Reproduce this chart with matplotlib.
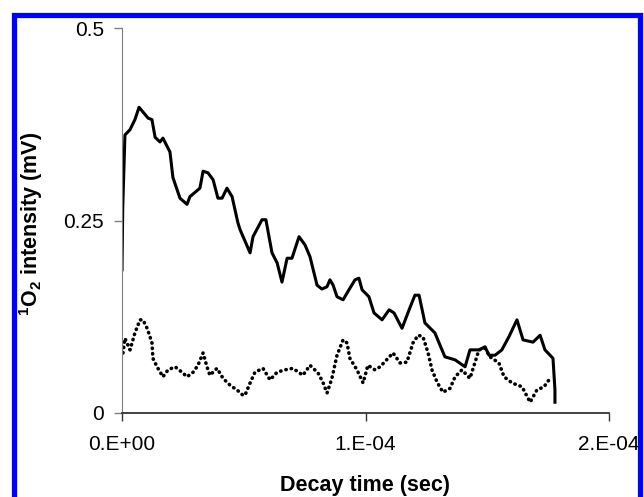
import matplotlib
matplotlib.use("Agg")
import matplotlib.pyplot as plt
from matplotlib.lines import Line2D
import numpy as np

plt.rcParams['font.family'] = ['Liberation Sans', 'DejaVu Sans']
plt.rcParams['mathtext.fontset'] = 'custom'
plt.rcParams['mathtext.rm'] = 'Liberation Sans'
plt.rcParams['mathtext.bf'] = 'Liberation Sans:bold'

# decay time in microseconds, intensity in mV
t_solid = [0, 0.3, 1.2, 3.3, 5.3, 7.0, 8.6, 10.7, 12.3, 13.6, 15.6, 16.8, 19.7, 20.9,
           23.8, 26.7, 27.9, 32.0, 33.3, 35.3, 37.4, 39.4, 41.1, 43.1, 45.2, 47.6,
           48.5, 52.6, 53.8, 57.5, 59.1, 61.6, 63.7, 65.7, 67.8, 69.8, 72.7, 75.2,
           77.2, 80.1, 82.1, 84.2, 85.4, 86.7, 88.3, 90.8, 93.2, 95.7, 97.3, 98.6,
           101.4, 103.5, 106.8, 109.7, 111.7, 115.0, 117.9, 120.3, 122.0, 124.4,
           128.5, 132.6, 136.8, 140.9, 142.9, 146.6, 149.1, 150.7, 153.2, 156.0,
           158.9, 162.2, 164.7, 168.8, 171.7, 173.7, 177.0, 177.8, 177.8]
i_solid = [0.186, 0.266, 0.361, 0.368, 0.381, 0.397, 0.391, 0.383, 0.381, 0.358, 0.352,
           0.357, 0.339, 0.306, 0.279, 0.271, 0.281, 0.292, 0.314, 0.312, 0.303, 0.279,
           0.279, 0.292, 0.281, 0.247, 0.238, 0.208, 0.229, 0.251, 0.251, 0.208, 0.195,
           0.170, 0.201, 0.201, 0.229, 0.218, 0.203, 0.166, 0.161, 0.164, 0.173, 0.166,
           0.151, 0.147, 0.160, 0.173, 0.175, 0.160, 0.151, 0.130, 0.121, 0.134, 0.130,
           0.110, 0.134, 0.153, 0.153, 0.117, 0.104, 0.073, 0.069, 0.060, 0.082, 0.082,
           0.086, 0.075, 0.075, 0.082, 0.099, 0.121, 0.095, 0.092, 0.101, 0.082, 0.071,
           0.030, 0.014]

t_dotted = [0.4, 1.2, 3.3, 5.3, 7.4, 8.6, 10.3, 11.5, 12.3, 12.7, 14.4, 16.8, 18.9, 21.8,
            24.6, 26.7, 29.2, 31.2, 33.3, 34.9, 36.1, 39.0, 41.5, 44.4, 47.2, 49.7,
            50.5, 52.6, 54.6, 57.9, 60.8, 63.7, 66.9, 70.2, 74.3, 77.2, 80.5, 82.5,
            84.2, 86.2, 88.3, 90.8, 92.4, 93.6, 96.5, 99.0, 101.0, 103.9, 106.0, 111.3,
            114.2, 117.0, 119.5, 121.6, 123.6, 125.7, 127.3, 129.4, 131.8, 134.7, 136.8,
            139.6, 142.9, 146.6, 149.1, 151.1, 154.8, 156.9, 160.2, 164.3, 167.6, 170.4,
            173.3, 175.8]
i_dotted = [0.078, 0.097, 0.082, 0.104, 0.121, 0.121, 0.110, 0.099, 0.091, 0.071, 0.060,
            0.047, 0.056, 0.060, 0.053, 0.047, 0.053, 0.062, 0.078, 0.060, 0.049, 0.058,
            0.045, 0.036, 0.030, 0.023, 0.023, 0.039, 0.053, 0.058, 0.043, 0.053, 0.056,
            0.058, 0.049, 0.062, 0.052, 0.040, 0.026, 0.045, 0.075, 0.095, 0.091, 0.071,
            0.056, 0.039, 0.062, 0.056, 0.060, 0.078, 0.065, 0.066, 0.091, 0.101, 0.099,
            0.078, 0.056, 0.040, 0.027, 0.032, 0.047, 0.056, 0.045, 0.082, 0.084, 0.073,
            0.065, 0.047, 0.039, 0.034, 0.014, 0.030, 0.034, 0.045]

x_ticks = [0, 1e-4, 2e-4]
x_ticklabels = ['0.E+00', '1.E-04', '2.E-04']
y_ticks = [0, 0.25, 0.5]
y_ticklabels = ['0', '0.25', '0.5']

fig = plt.figure(figsize=(6.44, 4.97), dpi=100)
ax = fig.add_axes([122/644, 84/497, 487/644, 385/497])

ax.plot(np.array(t_solid) * 1e-6, i_solid, color='black', lw=2.2)
ax.plot(np.array(t_dotted) * 1e-6, i_dotted, color='black', lw=2.6,
        linestyle=(0, (0.1, 1.4)), dash_capstyle='round')

ax.set_xlim(0, 2e-4)
ax.set_ylim(0, 0.5)
ax.set_xticks(x_ticks)
ax.set_xticklabels(x_ticklabels)
ax.set_yticks(y_ticks)
ax.set_yticklabels(y_ticklabels)
ax.tick_params(axis='both', direction='out', length=6, labelsize=15, width=1)
ax.tick_params(axis='x', pad=10, colors='#333333', labelcolor='black')
ax.tick_params(axis='y', pad=7, colors='#808080', labelcolor='black')

for s in ['top', 'right']:
    ax.spines[s].set_visible(False)
ax.spines['left'].set_color('#808080')
ax.spines['bottom'].set_color('#333333')
ax.spines['bottom'].set_linewidth(1.3)

ax.set_xlabel('Decay time (sec)', fontsize=15.5, fontweight='bold')
ax.xaxis.set_label_coords(0.5, -0.162)
ax.set_ylabel(r'$\mathbf{{}^{1}O_{2}}$ intensity (mV)', fontsize=15.5,
              fontweight='bold')
ax.yaxis.set_label_coords(-0.158, 0.49)

# blue frame
fig.add_artist(Line2D([13.5/644, 13.5/644, 639.5/644, 639.5/644],
                      [-0.05, 1 - 14.5/497, 1 - 14.5/497, -0.05],
                      transform=fig.transFigure, color='#0000ff', lw=3.8,
                      solid_joinstyle='miter'))

fig.savefig('out.png', dpi=100)
